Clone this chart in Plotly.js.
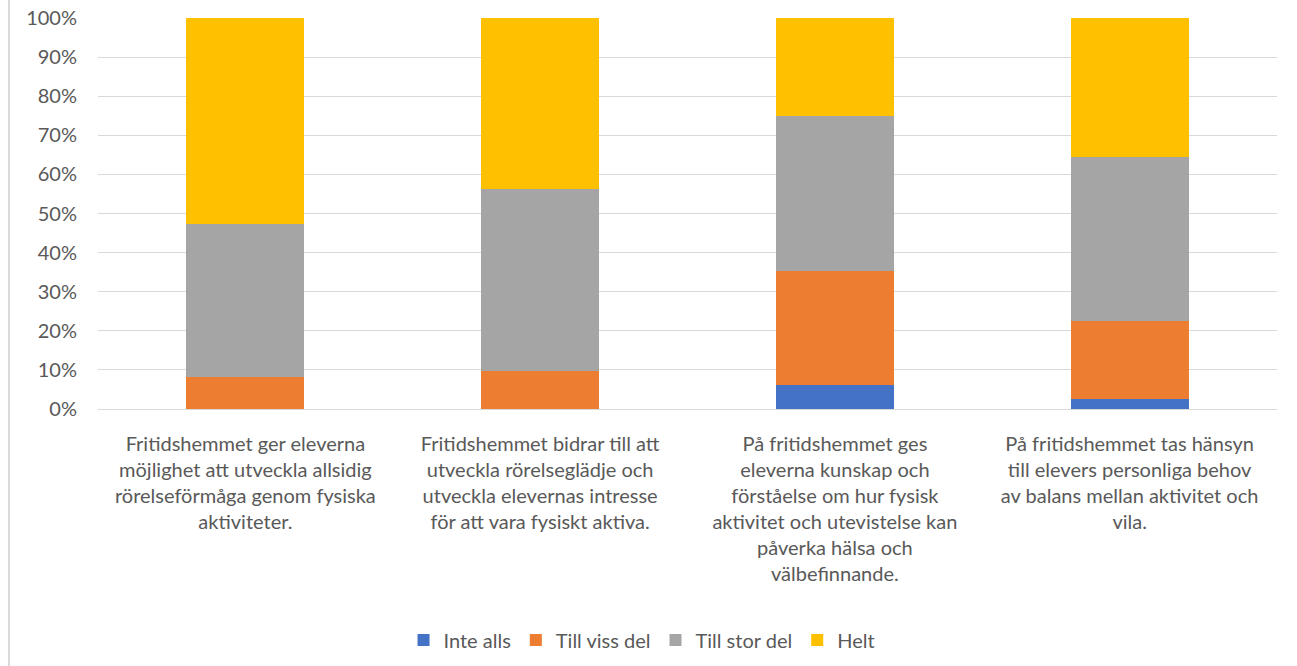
<!DOCTYPE html>
<html>
<head>
<meta charset="utf-8">
<script src="https://cdn.plot.ly/plotly-3.0.1.min.js"></script>
<style>
  html, body { margin: 0; padding: 0; background: #fff; }
  #chart { width: 1297px; height: 666px; }
</style>
</head>
<body>
<div id="chart"></div>
<script>
// Categories (statements), wrapped as in the original chart
const categories = [
    'Fritidshemmet ger eleverna<br>möjlighet att utveckla allsidig<br>rörelseförmåga genom fysiska<br>aktiviteter.',
    'Fritidshemmet bidrar till att<br>utveckla rörelseglädje och<br>utveckla elevernas intresse<br>för att vara fysiskt aktiva.',
    'På fritidshemmet ges<br>eleverna kunskap och<br>förståelse om hur fysisk<br>aktivitet och utevistelse kan<br>påverka hälsa och<br>välbefinnande.',
    'På fritidshemmet tas hänsyn<br>till elevers personliga behov<br>av balans mellan aktivitet och<br>vila.'
];

// Share of answers (%) per category
const inteAlls = [0, 0, 6.2, 2.5];
const tillVissDel = [8.1, 9.6, 29.2, 20.1];
const tillStorDel = [39.3, 46.7, 39.6, 41.9];
const helt = [52.6, 43.7, 25.0, 35.5];

const seriesNames = ['Inte alls', 'Till viss del', 'Till stor del', 'Helt'];
const seriesValues = [inteAlls, tillVissDel, tillStorDel, helt];
const seriesColors = ['#4472C4', '#ED7D31', '#A5A5A5', '#FFC000'];

const textColor = '#595959';
const gridColor = '#D9D9D9';

const traces = seriesNames.map((name, i) => ({
    type: 'bar',
    name: name,
    x: categories,
    y: seriesValues[i],
    marker: { color: seriesColors[i], line: { width: 0 } },
    hoverinfo: 'name+y'
}));

const layout = {
    width: 1297,
    height: 666,
    barmode: 'stack',
    bargap: 0.6,
    margin: { l: 98, r: 20, t: 18, b: 257 },
    paper_bgcolor: '#fff',
    plot_bgcolor: '#fff',
    font: { family: 'Lato, sans-serif', size: 20, color: textColor },
    xaxis: {
        showgrid: false,
        showline: true,
        linecolor: gridColor,
        linewidth: 1,
        ticks: '',
        ticklabelstandoff: 17,
        tickfont: { size: 20, color: textColor }
    },
    yaxis: {
        range: [0, 100],
        dtick: 10,
        ticksuffix: '%',
        showgrid: true,
        gridcolor: gridColor,
        gridwidth: 1,
        zeroline: false,
        ticks: '',
        ticklabelstandoff: 20,
        tickfont: { size: 20, color: textColor }
    },
    showlegend: true,
    legend: {
        orientation: 'h',
        xref: 'container',
        yref: 'container',
        x: 0.495,
        xanchor: 'center',
        y: 0.039,
        yanchor: 'middle',
        traceorder: 'normal',
        font: { size: 20, color: textColor },
        itemwidth: 30
    },
    shapes: [{
        type: 'line',
        xref: 'paper',
        yref: 'paper',
        x0: -0.0755, x1: -0.0755,
        y0: 1.05, y1: -0.66,
        line: { color: gridColor, width: 2 }
    }]
};

Plotly.newPlot('chart', traces, layout, { displayModeBar: false, staticPlot: true });
</script>
</body>
</html>
